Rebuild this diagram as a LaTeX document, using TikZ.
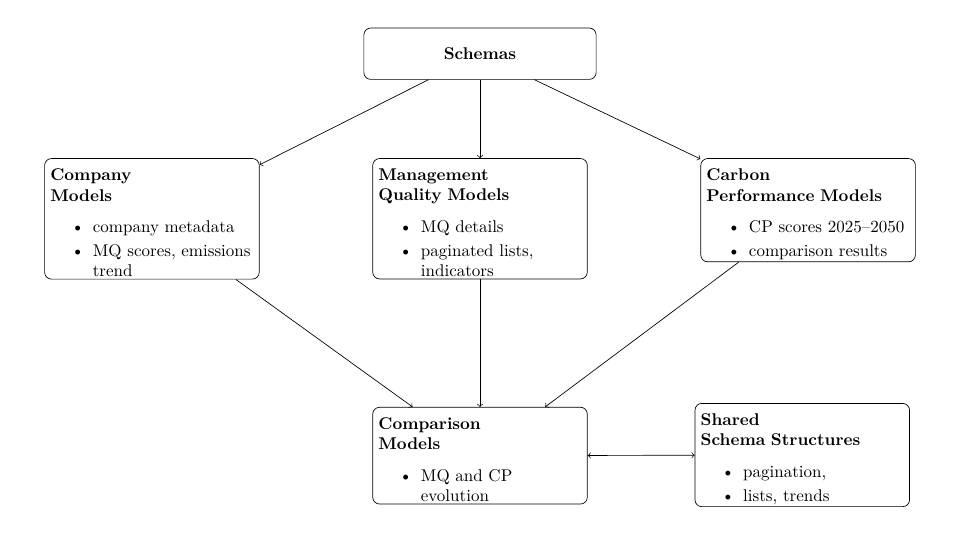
\documentclass[tikz,border=0pt]{standalone}
\usepackage{tikz}
\usepackage{amsmath}
\usepackage{enumitem}
\usetikzlibrary{shapes, arrows, calc, positioning}

\setlist[itemize]{topsep=6.5pt, partopsep=0pt, itemsep=0pt, parsep=2pt, after=\vspace{-4.7pt}}

\begin{document}
\begin{tikzpicture}[
        modelbox/.style={draw, rounded corners, text width=4.2cm, inner ysep=6pt, align=left, anchor=north},
        rootbox/.style={draw, rounded corners, minimum width=4.8cm, minimum height=1.06cm, font=\bfseries}
    ]
            \useasboundingbox (0, 0) rectangle (20.17, -11.41);

            \node [rootbox] (schemas) at (9.92, -1.11) {Schemas};

            \node [modelbox] (company) at (3.14, -3.27) {
                \textbf{Company\\Models}
                \begin{itemize}
                    \item company metadata
                    \item MQ scores, emissions trend
                \end{itemize}};
            \node [modelbox] (mq) at (9.92, -3.27) {
                \textbf{Management\\Quality Models}
                \begin{itemize}
                    \item MQ details
                    \item paginated lists, indicators
                \end{itemize}};
            \node [modelbox] (carbon) at (16.70, -3.27) {
                \textbf{Carbon\\Performance Models}
                \begin{itemize}
                    \item CP scores 2025--2050
                    \item comparison results
                \end{itemize}};

            \node [modelbox] (comparison) at (9.92, -8.41) {
                \textbf{Comparison\\Models}
                \begin{itemize}
                    \item MQ and CP evolution
                \end{itemize}};
            \node [modelbox] (shared) at (16.58, -8.33) {
                \textbf{Shared\\Schema Structures}
                \begin{itemize}
                    \item pagination,
                    \item lists, trends
                \end{itemize}};

            \draw [->] (schemas) -- (company);
            \draw [->] (schemas) -- (mq);
            \draw [->] (schemas) -- (carbon);

            \draw [->] (company) -- (comparison);
            \draw [->] (mq) -- (comparison);
            \draw [->] (carbon) -- (comparison);

            \draw [<->] (comparison) -- (shared);

        \end{tikzpicture}
\end{document}
